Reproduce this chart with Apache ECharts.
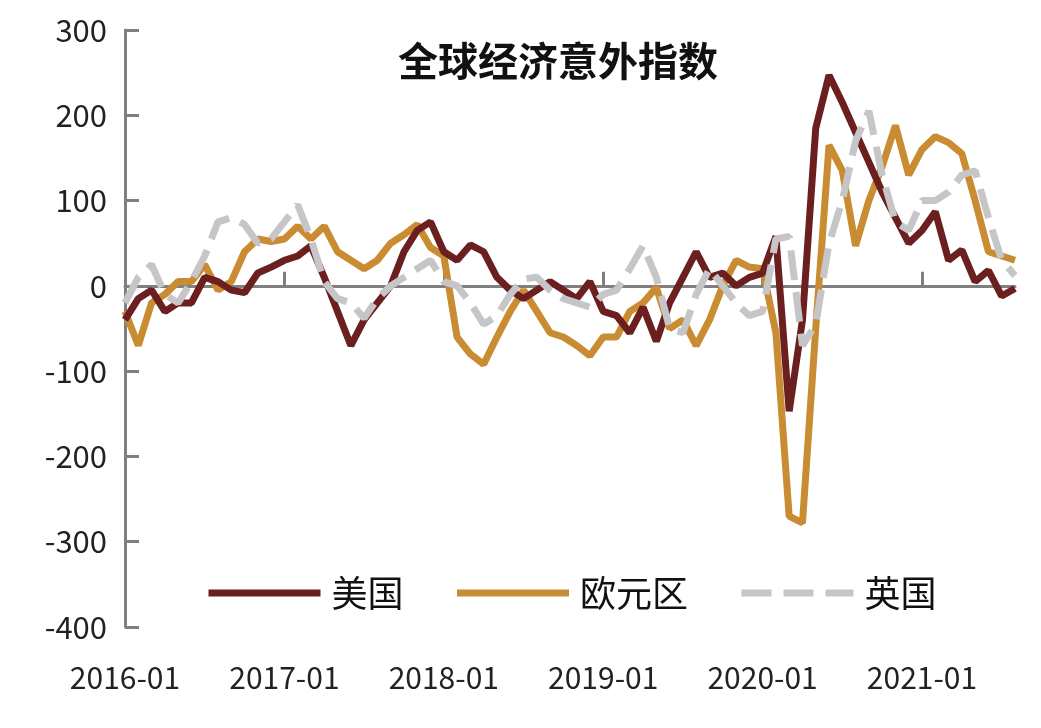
<!DOCTYPE html>
<html>
<head>
<meta charset="utf-8">
<title>全球经济意外指数</title>
<script src="https://cdn.jsdelivr.net/npm/echarts@6/dist/echarts.min.js"></script>
</head>
<body style="margin:0">
<div id="main" style="width:1041px;height:728px;"></div>
<script type="text/javascript">
// 月份 2016-01 ~ 2021-08
var months = [];
for (var y = 2016; y <= 2021; y++) {
    for (var m = 1; m <= 12; m++) {
        if (y === 2021 && m > 8) break;
        months.push(y + '-' + (m < 10 ? '0' + m : m));
    }
}
var usData = [-40,-15,-5,-30,-20,-20,10,5,-5,-8,15,22,30,35,47,10,-30,-70,-40,-20,0,40,65,75,
    40,30,48,40,10,-5,-15,-5,5,-5,-15,5,-30,-35,-55,-25,-65,-20,10,40,10,15,0,10,
    15,58,-147,-40,185,247,215,180,145,110,80,50,65,87,30,42,5,18,-12,-3];
var euroData = [-30,-70,-20,-10,5,5,25,-5,5,40,55,52,55,70,55,70,40,30,20,30,50,60,72,45,
    35,-60,-80,-92,-60,-30,-5,-30,-55,-60,-70,-82,-60,-60,-30,-20,-2,-50,-40,-70,-40,0,30,22,
    20,-55,-270,-278,-50,165,135,47,100,140,188,130,160,175,168,155,100,40,35,30];
var ukData = [-20,10,25,-10,-20,5,35,75,80,72,50,55,75,95,55,5,-15,-20,-38,-15,0,10,20,30,
    5,0,-20,-45,-35,-10,8,10,-5,-15,-20,-25,-10,-5,20,47,10,-50,-55,-10,20,0,-20,-35,
    -30,55,58,-70,-45,50,100,170,205,130,75,65,100,100,110,130,135,80,30,12];
var yTicks = [-400, 300, 100];

var myChart = echarts.init(document.getElementById('main'));
var font = 'Noto Sans CJK SC';
myChart.setOption({
    backgroundColor: '#ffffff',
    title: {
        text: '全球经济意外指数',
        left: 553, top: 36, textAlign: 'center',
        textStyle: { fontFamily: font, fontSize: 40, fontWeight: 'bold', color: '#111' }
    },
    legend: {
        top: 570, left: 200, itemGap: 50, itemWidth: 112, itemHeight: 8,
        textStyle: { fontFamily: font, fontSize: 36, color: '#111', padding: [0, 0, 0, 6] },
        itemStyle: { opacity: 0 },
        lineStyle: { width: 7 },
        data: ['美国', '欧元区', '英国']
    },
    grid: { left: 125, right: 26, top: 30, bottom: 101 },
    xAxis: [{
        type: 'category', data: months, boundaryGap: false,
        axisLine: { onZero: true, lineStyle: { color: '#808080', width: 3 } },
        axisTick: { inside: true, length: 14, interval: function (i) { return i % 12 === 0; }, lineStyle: { color: '#808080', width: 3 } },
        axisLabel: { show: false }
    }, {
        type: 'category', data: months, boundaryGap: false, position: 'bottom',
        axisLine: { show: false }, axisTick: { show: false },
        axisLabel: {
            interval: function (i) { return i % 12 === 0; },
            fontFamily: font, fontSize: 30, color: '#222', margin: 36
        }
    }],
    yAxis: {
        type: 'value', min: yTicks[0], max: yTicks[1], interval: yTicks[2],
        splitLine: { show: false },
        axisLine: { show: true, lineStyle: { color: '#808080', width: 3 } },
        axisTick: { show: true, inside: true, length: 14, lineStyle: { color: '#808080', width: 3 } },
        axisLabel: { fontFamily: font, fontSize: 31, color: '#222', margin: 18 }
    },
    series: [{
        name: '美国', type: 'line', data: usData, showSymbol: false, symbol: 'none',
        lineStyle: { color: '#6b1f1f', width: 7 }, itemStyle: { color: '#6b1f1f' }, z: 3
    }, {
        name: '欧元区', type: 'line', data: euroData, showSymbol: false, symbol: 'none',
        lineStyle: { color: '#c98c32', width: 7 }, itemStyle: { color: '#c98c32' }, z: 2
    }, {
        name: '英国', type: 'line', data: ukData, showSymbol: false, symbol: 'none',
        lineStyle: { color: '#c6c6c8', width: 7, type: [30, 12] }, itemStyle: { color: '#c6c6c8' }, z: 4
    }]
});
</script>
</body>
</html>
